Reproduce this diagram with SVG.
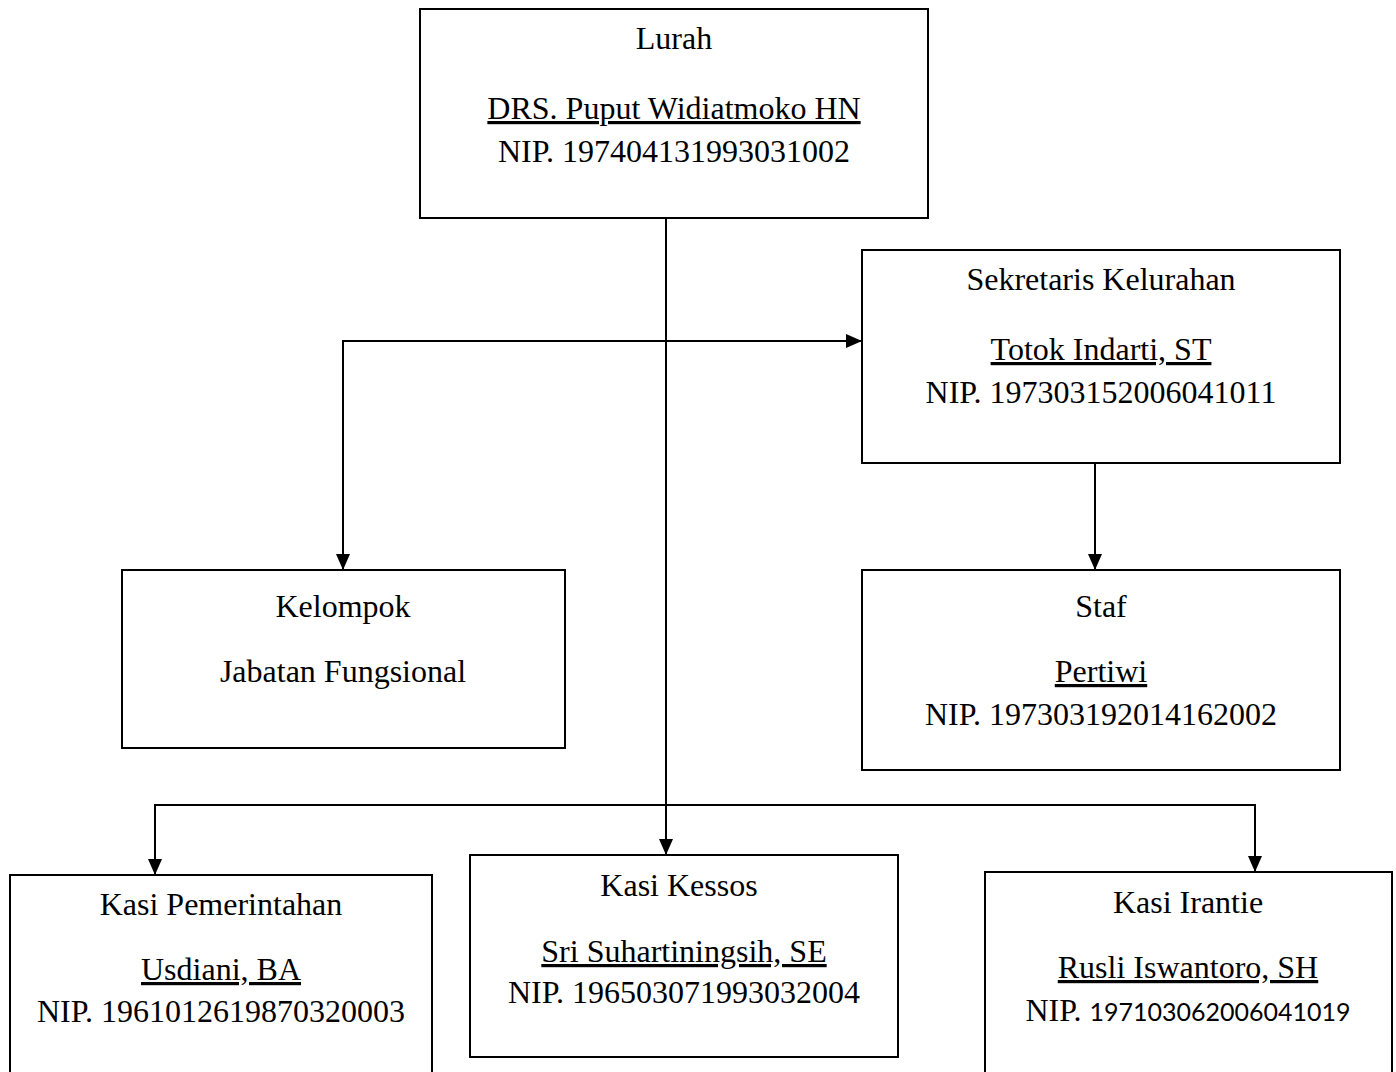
<svg xmlns="http://www.w3.org/2000/svg" width="1396" height="1072" viewBox="0 0 1396 1072">
<style>
.box{fill:#fff;stroke:#000;stroke-width:2}
.t{font-family:"Liberation Serif","Times New Roman",serif;font-size:32px;fill:#000;text-anchor:middle}
.u{text-decoration:underline}
.c{fill:none;stroke:#000;stroke-width:2}
.n{font-family:Lato,"Open Sans",sans-serif;font-size:25px}
</style>
<defs>
<marker id="ah" markerUnits="userSpaceOnUse" markerWidth="16" markerHeight="16" viewBox="0 0 16 16" refX="16" refY="8" orient="auto">
<path d="M0,1 L16,8 L0,15 Z" fill="#000"/>
</marker>
</defs>
<rect width="1396" height="1072" fill="#fff"/>
<g id="connectors">
<path class="c" d="M666,218 V855" marker-end="url(#ah)"/>
<path class="c" d="M666,341 H862" marker-end="url(#ah)"/>
<path class="c" d="M666,341 H343 V570" marker-end="url(#ah)"/>
<path class="c" d="M1095,463 V570" marker-end="url(#ah)"/>
<path class="c" d="M666,805 H155 V875" marker-end="url(#ah)"/>
<path class="c" d="M666,805 H1255 V872" marker-end="url(#ah)"/>
</g>
<g id="lurah">
<rect class="box" x="420" y="9" width="508" height="209"/>
<text class="t" x="674" y="49">Lurah</text>
<text class="t u" x="674" y="119">DRS. Puput Widiatmoko HN</text>
<text class="t" x="674" y="162">NIP. 197404131993031002</text>
</g>
<g id="sekretaris">
<rect class="box" x="862" y="250" width="478" height="213"/>
<text class="t" x="1101" y="290">Sekretaris Kelurahan</text>
<text class="t u" x="1101" y="360">Totok Indarti, ST</text>
<text class="t" x="1101" y="403">NIP. 197303152006041011</text>
</g>
<g id="kelompok">
<rect class="box" x="122" y="570" width="443" height="178"/>
<text class="t" x="343" y="617">Kelompok</text>
<text class="t" x="343" y="682">Jabatan Fungsional</text>
</g>
<g id="staf">
<rect class="box" x="862" y="570" width="478" height="200"/>
<text class="t" x="1101" y="617">Staf</text>
<text class="t u" x="1101" y="682">Pertiwi</text>
<text class="t" x="1101" y="725">NIP. 197303192014162002</text>
</g>
<g id="kasi-pemerintahan">
<rect class="box" x="10" y="875" width="422" height="210"/>
<text class="t" x="221" y="915">Kasi Pemerintahan</text>
<text class="t u" x="221" y="980">Usdiani, BA</text>
<text class="t" x="221" y="1022">NIP. 1961012619870320003</text>
</g>
<g id="kasi-kessos">
<rect class="box" x="470" y="855" width="428" height="202"/>
<text class="t" x="679" y="896">Kasi Kessos</text>
<text class="t u" x="684" y="962">Sri Suhartiningsih, SE</text>
<text class="t" x="684" y="1003">NIP. 196503071993032004</text>
</g>
<g id="kasi-irantie">
<rect class="box" x="985" y="872" width="407" height="210"/>
<text class="t" x="1188" y="913">Kasi Irantie</text>
<text class="t u" x="1188" y="978">Rusli Iswantoro, SH</text>
<text class="t" x="1188" y="1021">NIP. <tspan class="n">197103062006041019</tspan></text>
</g>
</svg>
